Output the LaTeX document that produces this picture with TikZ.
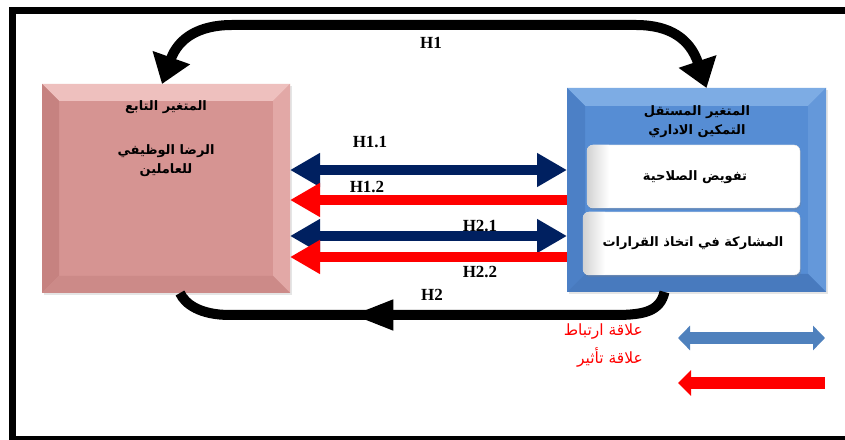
\documentclass[tikz,border=0pt]{standalone}
\usepackage{fontspec}
\setmainfont{Liberation Serif}
\newfontfamily\arabicfont[Script=Arabic]{DejaVu Sans}
\TeXXeTstate=1
\usetikzlibrary{arrows.meta,decorations.markings,calc,shadows}
\definecolor{navy}{HTML}{002060}
\definecolor{legblue}{HTML}{4F81BD}
\definecolor{pkface}{RGB}{214,148,146}
\definecolor{pktop}{RGB}{238,192,190}
\definecolor{pkleft}{RGB}{198,130,128}
\definecolor{pkright}{RGB}{226,168,166}
\definecolor{pkbot}{RGB}{204,138,136}
\definecolor{blface}{RGB}{86,141,212}
\definecolor{bltop}{RGB}{125,172,228}
\definecolor{blleft}{RGB}{76,128,198}
\definecolor{blright}{RGB}{100,152,218}
\definecolor{blbot}{RGB}{72,122,190}
\newcommand\bevelbox[6]{%
  \fill[#3] (#1.north west) -- (#1.north east) -- ($(#1.north east)+(-#2,-#2)$) -- ($(#1.north west)+(#2,-#2)$) -- cycle;
  \fill[#4] (#1.north west) -- ($(#1.north west)+(#2,-#2)$) -- ($(#1.south west)+(#2,#2)$) -- (#1.south west) -- cycle;
  \fill[#5] (#1.north east) -- ($(#1.north east)+(-#2,-#2)$) -- ($(#1.south east)+(-#2,#2)$) -- (#1.south east) -- cycle;
  \fill[#6] (#1.south west) -- ($(#1.south west)+(#2,#2)$) -- ($(#1.south east)+(-#2,#2)$) -- (#1.south east) -- cycle;
}
\tikzset{
  innerbox/.style={rounded corners=6pt, fill=white, draw=gray!25, inner sep=0pt, outer sep=0pt,
     drop shadow={opacity=0.25, shadow xshift=1pt, shadow yshift=-2pt}},
  artxt/.style={font=\arabicfont\bfseries\fontsize{13}{19}\selectfont, align=center, inner sep=0pt},
  boxtxt/.style={font=\arabicfont\bfseries\fontsize{13}{16}\selectfont, text=black, inner sep=0pt},
  legtxt/.style={font=\arabicfont\fontsize{15.5}{18}\selectfont, text=red, inner sep=0pt},
  hlab/.style={font=\bfseries\fontsize{17}{17}\selectfont, inner sep=0pt},
  navyarr/.style={draw=navy, line width=10pt, {Triangle[width=32pt,length=30pt]}-{Triangle[width=32pt,length=30pt]}},
  redarr/.style={draw=red, line width=10pt, {Triangle[width=32pt,length=30pt]}-},
  loop/.style={draw=black, line width=10pt},
}
\begin{document}
\begin{tikzpicture}[x=1pt,y=1pt]
\useasboundingbox (0,0) rectangle (845,439);
\fill[white] (0,0) rectangle (845,439);
% frame
\draw[line width=7pt, line join=miter] (845,428.5) -- (12.5,428.5) -- (12.5,0) -- (845,0);

% left box
\node[fill=pkface, minimum width=248pt, minimum height=209pt, inner sep=0pt, outer sep=0pt,
  drop shadow={opacity=0.2, shadow xshift=2pt, shadow yshift=-2pt}] (L) at (166,250.5) {};
\bevelbox{L}{17}{pktop}{pkleft}{pkright}{pkbot}
% right box
\node[fill=blface, minimum width=259pt, minimum height=204pt, inner sep=0pt, outer sep=0pt,
  drop shadow={opacity=0.2, shadow xshift=2pt, shadow yshift=-2pt}] (R) at (696.5,249) {};
\bevelbox{R}{18}{bltop}{blleft}{blright}{blbot}

% inner boxes
\node[innerbox, minimum width=213pt, minimum height=63pt] (r1) at (693.5,262.5) {};
\node[innerbox, minimum width=217pt, minimum height=63pt] (r2) at (691.5,195.5) {};
\begin{scope}
  \clip[rounded corners=6pt] (r1.south west) rectangle (r1.north east);
  \shade[left color=gray!35, right color=white] (r1.south west) rectangle ([xshift=22pt]r1.north west);
\end{scope}
\begin{scope}
  \clip[rounded corners=6pt] (r2.south west) rectangle (r2.north east);
  \shade[left color=gray!35, right color=white] (r2.south west) rectangle ([xshift=22pt]r2.north west);
\end{scope}

% texts
\node[artxt] (Lt1) at (166,332) {\beginR المتغير التابع\endR};
\node[artxt] (Lt2) at (166,278) {\beginR الرضا الوظيفي\endR\\\beginR للعاملين\endR};
\node[artxt] (Rt1) at (697,317) {\beginR المتغير المستقل\endR\\\beginR التمكين الاداري\endR};
\node[boxtxt] (r1t) at (695,262) {\beginR تفويض الصلاحية\endR};
\node[boxtxt] (r2t) at (693,196) {\beginR المشاركة في اتخاذ القرارات\endR};

% horizontal arrows
\coordinate (a1) at ([yshift=-86pt]L.north east);
\coordinate (a2) at ([yshift=-116pt]L.north east);
\coordinate (a3) at ([yshift=-152pt]L.north east);
\coordinate (a4) at ([yshift=-173pt]L.north east);
\draw[navyarr] (a1) -- (a1 -| R.west);
\draw[redarr] (a2) -- (a2 -| R.west);
\draw[navyarr] (a3) -- (a3 -| R.west);
\draw[redarr] (a4) -- (a4 -| R.west);
\node[hlab] (h11) at (370,297) {H1.1};
\node[hlab] (h12) at (367,252) {H1.2};
\node[hlab] (h21) at (480,213) {H2.1};
\node[hlab] (h22) at (480,167) {H2.2};

% top loop H1
\draw[loop, {Triangle[width=38pt,length=28pt]}-{Triangle[width=38pt,length=28pt]}]
  ([xshift=-4pt]L.north) .. controls (178,400) and (198,414) .. (232,414) -- (636,414)
  .. controls (670,414) and (690,400) .. ([xshift=10pt]R.north);
\node[hlab] (h1) at (431,396) {H1};

% bottom loop H2
\draw[loop, postaction={decorate}, decoration={markings,
   mark=at position 0.644 with {\arrow{Triangle[width=28pt,length=42pt]}}}]
  ([xshift=-32pt]R.south) .. controls (660,128) and (645,124) .. (615,124) -- (230,124)
  .. controls (200,124) and (185,135) .. ([xshift=14pt]L.south);
\node[hlab] (h2) at (432,144) {H2};

% legend
\coordinate (lb1) at (678,101);
\coordinate (lb2) at (825,101);
\coordinate (lr1) at (678,56);
\coordinate (lr2) at (825,56);
\draw[draw=legblue, line width=11pt, {Triangle[width=24pt,length=12pt]}-{Triangle[width=24pt,length=12pt]}] (lb1) -- (lb2);
\draw[draw=red, line width=12pt, {Triangle[width=25pt,length=13pt]}-] (lr1) -- (lr2);
\node[legtxt, anchor=east] (lt1) at (643,107) {\beginR علاقة ارتباط\endR};
\node[legtxt, anchor=east] (lt2) at (643,82) {\beginR علاقة تأثير\endR};
\end{tikzpicture}
\end{document}
